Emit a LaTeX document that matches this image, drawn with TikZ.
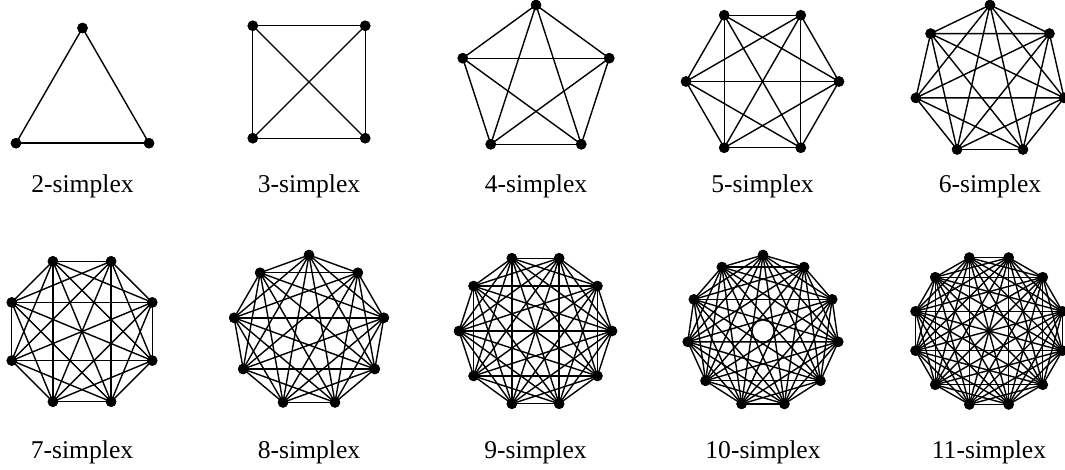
\documentclass[tikz,border=0pt]{standalone}
\usepackage{fontspec}
\setmainfont{Liberation Serif}
\tikzset{
  vtx/.style={circle,fill=black,draw=none,inner sep=0pt,minimum size=10.5pt},
  edgeline/.style={line width=1.4pt,black},
  lbl/.style={anchor=base,inner sep=0pt,font=\fontsize{25.6}{30}\selectfont}
}
% #1 id, #2 n, #3 cx, #4 cy, #5 R, #6 start angle, #7 label baseline y, #8 label
\newcommand\simplexgraph[8]{%
  \foreach \k in {1,...,#2}{%
    \pgfmathsetmacro\ang{#6+360*(\k-1)/#2}%
    \node[vtx] (#1-\k) at ({#3+#5*cos(\ang)},{#4-#5*sin(\ang)}) {};
  }%
  \foreach \i in {1,...,#2}{%
    \foreach \j in {\i,...,#2}{%
      \ifnum\i<\j \draw[edgeline] (#1-\i.center) -- (#1-\j.center);\fi
    }%
  }%
  \foreach \k in {1,...,#2}{%
    \node[vtx] at (#1-\k) {};
  }%
  \node[lbl] (#1-label) at (#3,#7) {#8};
}
\begin{document}
\begin{tikzpicture}[x=1pt,y=-1pt]
\useasboundingbox (0,0) rectangle (1065,470);
\simplexgraph{a}{3}{82.5}{104.8}{76.8}{90}{193}{2-simplex}
\simplexgraph{b}{4}{309}{82}{79.5}{45}{193}{3-simplex}
\simplexgraph{c}{5}{536}{82}{77}{90}{193}{4-simplex}
\simplexgraph{d}{6}{762.5}{81.5}{76.5}{0}{193}{5-simplex}
\simplexgraph{e}{7}{990}{81}{76}{90}{193}{6-simplex}
\simplexgraph{f}{8}{82}{331.5}{76}{22.5}{458}{7-simplex}
\simplexgraph{g}{9}{309}{331}{76}{90}{458}{8-simplex}
\simplexgraph{h}{10}{535.5}{331}{76.5}{0}{458}{9-simplex}
\simplexgraph{i}{11}{763}{331}{76}{90}{458}{10-simplex}
\simplexgraph{j}{12}{989}{331}{76}{15}{458}{11-simplex}
\end{tikzpicture}
\end{document}
